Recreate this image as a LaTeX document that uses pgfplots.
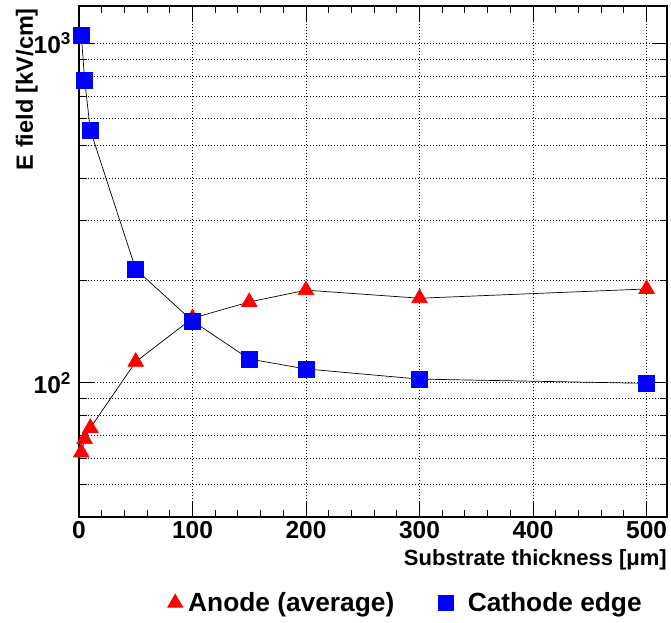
\documentclass[border=0pt]{standalone}
\usepackage{pgfplots}
\pgfplotsset{compat=1.18}
\usepackage{fontspec}
\setmainfont{Liberation Sans}
\pgfplotsset{
  legtri/.style={legend image code/.code={\draw[##1, only marks, mark size=8.7pt] plot coordinates {(0pt,0pt)}; \path[draw=none, fill=none] (-8pt,0pt) rectangle (11pt,0.1pt);}},
  legsq/.style={legend image code/.code={\draw[##1, only marks, mark size=7.5pt] plot coordinates {(0pt,0pt)}; \path[draw=none, fill=none] (-7.5pt,0pt) rectangle (20pt,0.1pt);}},
}
\begin{document}
\begin{tikzpicture}
\begin{axis}[
  name=ax,
  scale only axis,
  width=588pt, height=511pt,
  xmin=0, xmax=518,
  ymode=log, ymin=40.2, ymax=1290,
  xtick={0,100,200,300,400,500},
  minor x tick num=4,
  ytick={100,1000},
  yticklabels={10\textsuperscript{2},10\textsuperscript{3}},
  minor ytick={50,60,70,80,90,200,300,400,500,600,700,800,900},
  tick align=inside,
  xtick pos=both, ytick pos=both,
  major tick length=15pt, minor tick length=7.5pt,
  every tick/.style={black, line width=1pt},
  axis line style={line width=1.2pt},
  xmajorgrids, ymajorgrids, yminorgrids,
  grid style={black, line width=0.9pt, dash pattern=on 1pt off 2pt},
  minor grid style={black, line width=0.9pt, dash pattern=on 1pt off 2pt},
  /pgf/number format/assume math mode=true,
  tick label style={font=\fontsize{24.5}{26}\selectfont\bfseries},
  xticklabel style={yshift=-1pt},
  yticklabel style={xshift=-4.5pt},
  xlabel={Substrate thickness [μm]},
  ylabel={E field [kV/cm]},
  label style={font=\fontsize{22}{24}\selectfont\bfseries, inner sep=0pt},
  xlabel style={at={(rel axis cs:1,0)}, anchor=base east, yshift=-48pt},
  ylabel style={at={(rel axis cs:0,1)}, anchor=base east, yshift=46pt, xshift=-2pt,
    font=\fontsize{23.5}{26}\selectfont\bfseries},
  legend style={draw=none, fill=none, inner sep=0pt, at={(rel axis cs:0.1497,-0.168)}, anchor=west,
    font=\fontsize{26.3}{28}\selectfont\bfseries, legend columns=2},
  legend cell align=left,
  /tikz/every even column/.append style={column sep=42pt},
  clip=false,
]
\addplot[black, line width=0.7pt, mark=triangle*, mark size=9pt,
  mark options={solid, fill=red, draw=red}, legtri]
  coordinates {(2,62.3) (5,68.2) (10,73.6) (50,115.3) (100,155) (150,173) (200,187.5) (300,177.5) (500,189)};
\addlegendentry{Anode (average)}
\addplot[black, line width=0.7pt, mark=square*, mark size=8pt,
  mark options={solid, fill=blue, draw=blue}, legsq]
  coordinates {(2,1060) (5,780) (10,555) (50,216) (100,152) (150,117.5) (200,109.8) (300,102.5) (500,99.6)};
\addlegendentry{Cathode edge}
\end{axis}
\pgfresetboundingbox
\path (ax.south west) ++(-79pt,-105pt) rectangle ([xshift=4pt,yshift=6pt]ax.north east);
\end{tikzpicture}
\end{document}
